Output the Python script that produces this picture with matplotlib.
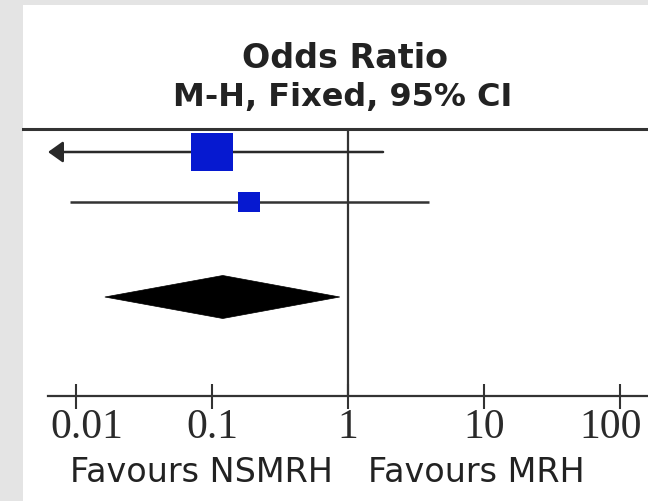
import matplotlib.pyplot as plt
from matplotlib.patches import Rectangle, Polygon
from matplotlib.lines import Line2D
from matplotlib.path import Path
from matplotlib.ticker import NullLocator

# study rows (odds ratio, 95% CI, weight %)
study_or = [0.10, 0.187]
study_lo = [0.002, 0.009]
study_hi = [1.81, 3.94]
study_weight = [79.0, 21.0]
study_row = [1, 2]

# pooled estimate (diamond)
pooled_or = 0.12
pooled_lo = 0.0163
pooled_hi = 0.87
pooled_row = 3.9

tick_vals = [0.01, 0.1, 1, 10, 100]
tick_labels = ['0.01', '0.1', '1', '10', '100']

W, H = 648, 502
line_col = '#333333'
blue = '#0619d0'


def fx(px):
    return px / W


def fy(py):
    return 1 - py / H


fig = plt.figure(figsize=(W / 100, H / 100), dpi=100, facecolor='#e4e4e4')
fig.patches.append(Rectangle((fx(22.5), 0), 1, fy(6), transform=fig.transFigure,
                             facecolor='white', edgecolor='none', zorder=-5))

ax = fig.add_axes([fx(48), fy(397), 1 - fx(48), fy(130) - fy(397)])
ax.set_facecolor('none')
ax.set_xscale('log')
xmin, xmax = 10 ** -2.206, 10 ** 2.206
ax.set_xlim(xmin, xmax)
ax.set_ylim(5.88, 0.54)

# confidence intervals
for o, lo, hi, y in zip(study_or, study_lo, study_hi, study_row):
    if lo < xmin:
        ax.annotate('', xy=(xmin, y), xytext=(hi, y),
                    arrowprops=dict(arrowstyle='-|>,head_length=0.42,head_width=0.3',
                                    mutation_scale=21.6, color='#2a2a2a', lw=1.8,
                                    shrinkA=0, shrinkB=0))
    else:
        ax.plot([lo, hi], [y, y], color=line_col, lw=1.8, solid_capstyle='butt')

# weighted boxes
box = Path([(-0.5, -0.44), (0.5, -0.44), (0.5, 0.44), (-0.5, 0.44), (-0.5, -0.44)],
           [Path.MOVETO, Path.LINETO, Path.LINETO, Path.LINETO, Path.CLOSEPOLY])
for o, w, y in zip(study_or, study_weight, study_row):
    side = 4.75 * w ** 0.5 * 0.72
    ax.plot([o], [y], marker=box, markersize=side, color=blue, mew=0, zorder=3)

# pooled diamond
ax.add_patch(Polygon([(pooled_lo, pooled_row), (pooled_or, pooled_row - 0.43),
                      (pooled_hi, pooled_row), (pooled_or, pooled_row + 0.43)],
                     closed=True, facecolor='black', edgecolor='black', lw=0.5, zorder=3))

ax.axvline(1, color=line_col, lw=1.6, zorder=1)

for s in ['left', 'right', 'top']:
    ax.spines[s].set_visible(False)
ax.spines['bottom'].set_color(line_col)
ax.spines['bottom'].set_linewidth(1.6)
ax.set_yticks([])
ax.set_xticks(tick_vals)
ax.xaxis.set_minor_locator(NullLocator())
ax.tick_params(axis='x', direction='inout', length=18, width=1.5, color=line_col,
               labelbottom=False)

for v, s in zip(tick_vals, tick_labels):
    x, ha, dx = v, 'center', 0
    if v == tick_vals[0]:
        x, ha, dx = xmin, 'left', 2
    elif v == tick_vals[-1]:
        x, ha, dx = xmax, 'right', -6
    ax.annotate(s, xy=(x, 0), xycoords=('data', 'axes fraction'), xytext=(dx, -41),
                textcoords='offset pixels', ha=ha, va='baseline', fontsize=30,
                family='Liberation Serif', color='#2a2a2a', annotation_clip=False)

ax.annotate('Favours NSMRH', xy=(1, 0), xycoords=('data', 'axes fraction'),
            xytext=(-15, -85), textcoords='offset pixels', ha='right', va='baseline',
            fontsize=24, color='#222222', annotation_clip=False)
ax.annotate('Favours MRH', xy=(1, 0), xycoords=('data', 'axes fraction'),
            xytext=(20, -85), textcoords='offset pixels', ha='left', va='baseline',
            fontsize=24, color='#222222', annotation_clip=False)

# header
fig.text(fx(345), fy(68), 'Odds Ratio', ha='center', va='baseline',
         fontsize=24, weight='bold', color='#222222')
fig.text(fx(343), fy(106), 'M-H, Fixed, 95% CI', ha='center', va='baseline',
         fontsize=23, weight='bold', color='#222222')
fig.add_artist(Line2D([fx(22.5), 1], [fy(130), fy(130)], transform=fig.transFigure,
                      color=line_col, lw=2.2))

fig.savefig('out.png', dpi=100, facecolor=fig.get_facecolor())
